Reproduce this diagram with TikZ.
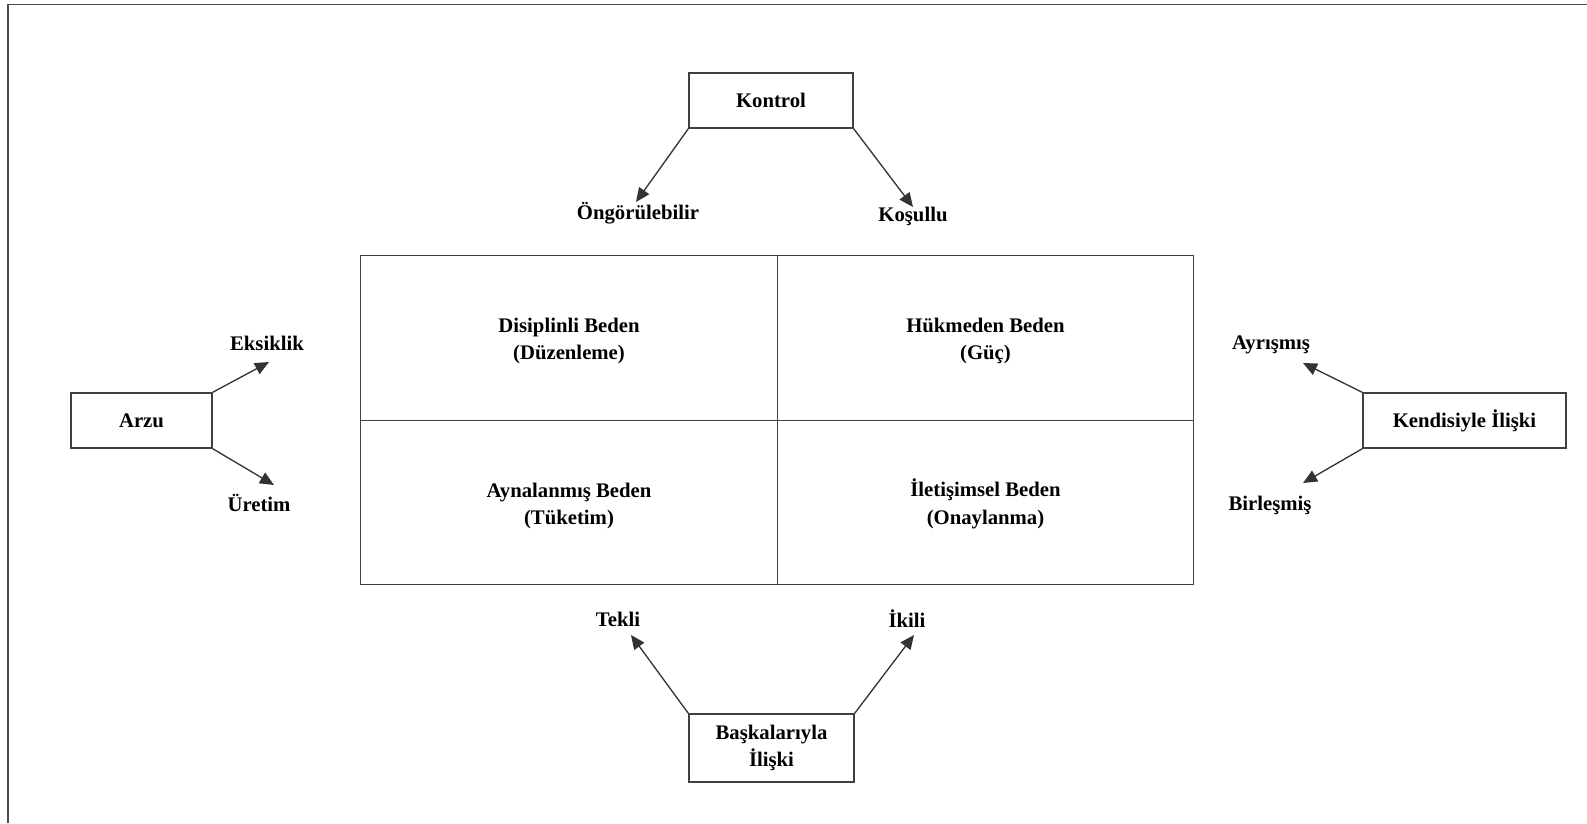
\documentclass[tikz,border=0pt]{standalone}
\usepackage{fontspec}
\setmainfont{Liberation Serif}
\usetikzlibrary{positioning,arrows.meta}

\tikzset{
  frame/.style={line width=1pt, draw=black!70},
  cell/.style={draw=black!75, line width=0.8pt, minimum width=8.33cm, minimum height=3.29cm,
    align=center, font=\fontsize{11.8}{15.8}\selectfont\bfseries},
  celltext/.style={align=center, font=\fontsize{11.8}{15.8}\selectfont\bfseries},
  box/.style={draw=black!75, line width=0.8pt, minimum height=1.1cm,
    align=center, font=\fontsize{11.8}{15.3}\selectfont\bfseries},
  lbl/.style={inner sep=0pt, font=\fontsize{11.8}{14}\selectfont\bfseries},
  arr/.style={draw=black!80, line width=0.75pt, -{Triangle[length=8pt,width=7pt]}}
}

\begin{document}
\begin{tikzpicture}[x=0.02cm, y=-0.02cm]
      \useasboundingbox (0,0) rectangle (1587,823);
      \draw[frame] (8,823) -- (8,4.5) -- (1587,4.5);

      % the four bodies
      \node[cell] (Disiplin) at (569,338) {};
      \node[cell, on grid, right=8.33cm of Disiplin] (Hukmeden) {};
      \node[cell, on grid, below=3.29cm of Disiplin] (Aynalanmis) {};
      \node[cell, on grid, below=3.29cm of Hukmeden] (Iletisim) {};
      \node[celltext] (DisiplinText) at (569,341) {Disiplinli Beden\\(Düzenleme)};
      \node[celltext] (HukmedenText) at (985.5,341) {Hükmeden Beden\\(Güç)};
      \node[celltext] (AynalanmisText) at (569,506) {Aynalanmış Beden\\(Tüketim)};
      \node[celltext] (IletisimText) at (985.5,504) {İletişimsel Beden\\(Onaylanma)};

      % outer boxes
      \node[box, minimum width=3.28cm] (Kontrol) at (771,100.5) {Kontrol};
      \node[box, minimum width=2.82cm] (Arzu) at (141.5,420.5) {Arzu};
      \node[box, minimum width=4.06cm] (Kendi) at (1464.5,420.5) {Kendisiyle İlişki};
      \node[box, minimum width=3.3cm, minimum height=1.36cm] (Baska) at (771.5,748) {Başkalarıyla\\İlişki};

      % labels
      \node[lbl] (Ongor) at (638,213) {Öngörülebilir};
      \node[lbl] (Kosul) at (913,216) {Koşullu};
      \node[lbl] (Eksik) at (267,343) {Eksiklik};
      \node[lbl] (Uretim) at (259,503) {Üretim};
      \node[lbl] (Ayris) at (1271,345) {Ayrışmış};
      \node[lbl] (Birles) at (1270,505) {Birleşmiş};
      \node[lbl] (Tekli) at (618,619) {Tekli};
      \node[lbl] (Ikili) at (907,619) {İkili};

      \coordinate (OngorTip) at (636,202);
      \coordinate (KosulTip) at (913,207);
      \coordinate (EksikTip) at (269,362);
      \coordinate (UretimTip) at (274,485);
      \coordinate (AyrisTip) at (1303,363);
      \coordinate (BirlesTip) at (1303,483);
      \coordinate (TekliTip) at (631,635);
      \coordinate (IkiliTip) at (914,635);

      \draw[arr] (Kontrol.south west) to (OngorTip);
      \draw[arr] (Kontrol.south east) to (KosulTip);
      \draw[arr] (Arzu.north east) to (EksikTip);
      \draw[arr] (Arzu.south east) to (UretimTip);
      \draw[arr] (Kendi.north west) to (AyrisTip);
      \draw[arr] (Kendi.south west) to (BirlesTip);
      \draw[arr] (Baska.north west) to (TekliTip);
      \draw[arr] (Baska.north east) to (IkiliTip);
\end{tikzpicture}
\end{document}
